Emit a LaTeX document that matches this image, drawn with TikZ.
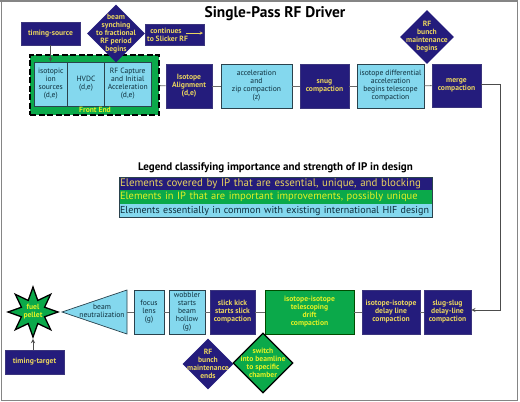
\documentclass[tikz,border=0pt]{standalone}
\usepackage{fontspec}
\usepackage{xcolor}
\usepackage{tikz}
\usetikzlibrary{shapes.geometric}
\setmainfont{PT Sans}
\definecolor{navyfill}{HTML}{241C7C}
\definecolor{skyfill}{HTML}{84D8EE}
\definecolor{greenfill}{HTML}{0BA94A}
\definecolor{navytext}{HTML}{E9D45F}
\definecolor{greentext}{HTML}{E4F224}
\definecolor{skytext}{HTML}{0E2E3C}
\definecolor{linkgray}{HTML}{6A6A6A}
\definecolor{framegray}{HTML}{858585}
\begin{document}
\begin{tikzpicture}[x=1pt, y=-1pt,
    every node/.style={align=center, font=\fontsize{7.6}{8}\selectfont, inner sep=0pt},
    navybox/.style={rectangle, draw=navyfill!75!gray, line width=0.6pt, fill=navyfill, text=navytext, font=\fontsize{7.6}{8}\selectfont\bfseries},
    skybox/.style={rectangle, draw=skytext!75!gray, line width=0.7pt, fill=skyfill, text=skytext},
    greenbox/.style={rectangle, draw=green!30!black, line width=0.6pt, fill=greenfill, text=greentext, font=\fontsize{7.6}{8}\selectfont\bfseries},
    navydiamond/.style={diamond, aspect=1, fill=navyfill},
    greendiamond/.style={diamond, aspect=1, fill=greenfill, draw=black, line width=1.3pt},
    navylabel/.style={text=navytext, font=\fontsize{7.6}{8}\selectfont\bfseries},
    greenlabel/.style={text=greentext, font=\fontsize{7.6}{8}\selectfont\bfseries},
    link/.style={draw=linkgray, line width=0.9pt},
    arrowlink/.style={link, draw=black!70, ->, >=stealth},
    legendrow/.style={rectangle, text width=311pt, align=left, inner xsep=1pt, minimum height=13.4pt, text height=7.6pt, text depth=2pt},
]
    % page and frame
    \path[use as bounding box, fill=white] (0,0) rectangle (520,402);
    \draw[framegray, line width=1pt] (1,1) rectangle (517,400.5);
    \draw[framegray, line width=2pt] (0,1) -- (518,1);
    \node[font=\fontsize{15.4}{18}\selectfont\bfseries] (title) at (275,14) {Single-Pass RF Driver};

    % front end
    \node[rectangle, fill=greenfill, draw=black, line width=1.6pt, dash pattern=on 6pt off 2.5pt, minimum width=129pt, minimum height=60pt] (front end) at (94.5,85) {};
    \node[skybox, minimum width=33.5pt, minimum height=44pt] (ion sources) at (50.75,84) {isotopic\\ion\\sources\\(d,e)};
    \node[skybox, minimum width=37pt, minimum height=44pt] (hvdc) at (86,84) {HVDC\\(d,e)};
    \node[skybox, minimum width=46.5pt, minimum height=44pt] (rf capture) at (127.75,84) {RF Capture\\and Initial\\Acceleration\\(d,e)};
    \node[text=greentext, font=\fontsize{7.6}{8}\selectfont\bfseries] (front end label) at (95,110) {Front End};

    % top row
    \node[navybox, minimum width=59pt, minimum height=23pt] (timing source) at (50.5,33.5) {timing-source};
    \node[navybox, minimum width=59pt, minimum height=21pt] (continues) at (174.5,34.5) {\mbox{continues\hspace{17pt}}\\\mbox{to Slicker RF\hspace{14pt}}};
    \coordinate (continues start) at (186,33);
    \coordinate (continues end) at (203,33);
    \node[navybox, minimum width=46pt, minimum height=44pt] (alignment) at (189,86) {Isotope\\Alignment\\(d,e)};
    \node[skybox, minimum width=71pt, minimum height=44pt] (zip) at (256.5,86) {acceleration\\and\\zip compaction\\(z)};
    \node[navybox, minimum width=49pt, minimum height=44pt] (snug) at (324.5,86) {snug\\compaction};
    \node[skybox, minimum width=67pt, minimum height=44pt] (differential) at (390.5,86) {isotope differential\\acceleration\\begins telescope\\compaction};
    \node[navybox, minimum width=49pt, minimum height=43pt] (merge) at (456.5,85.5) {merge\\compaction};
    \coordinate (right turn top) at (500,84);
    \coordinate (right turn bottom) at (500,310);

    % diamonds on top
    \node[navydiamond, minimum size=58pt] (beam synching) at (116,33.5) {};
    \node[navylabel] (beam synching text) at (beam synching) {beam\\synching\\to fractional\\RF period\\begins};
    \node[navydiamond, minimum size=54pt] (maintenance begins) at (427,37) {};
    \node[navylabel] (maintenance begins text) at (maintenance begins) {RF\\bunch\\maintenance\\begins};

    % legend
    \node[font=\fontsize{11}{12}\selectfont\bfseries] (legend title) at (275.5,168) {Legend classifying importance and strength of IP in design};
    \node[legendrow, fill=navyfill, text=navytext, font=\fontsize{10.9}{10}\selectfont] (legend navy) at (275.5,183.7) {\mbox{Elements covered by IP that are essential, unique, and blocking}};
    \node[legendrow, fill=greenfill, text=greentext, font=\fontsize{10.5}{10}\selectfont] (legend green) at (275.5,197) {\mbox{Elements in IP that are important improvements, possibly unique}};
    \node[legendrow, fill=skyfill, text=skytext, font=\fontsize{10.05}{10}\selectfont] (legend sky) at (275.5,210.4) {\mbox{Elements essentially in common with existing international HIF design}};
    \draw[skytext!75!gray, line width=0.5pt] (legend navy.north west) rectangle (legend sky.south east);

    % bottom row
    \node[navybox, minimum width=47pt, minimum height=44pt] (slug) at (447.5,312) {slug-slug\\delay-line\\compaction};
    \node[navybox, minimum width=58pt, minimum height=44pt] (delay line) at (391,312) {isotope-isotope\\delay line\\compaction};
    \node[greenbox, minimum width=89pt, minimum height=44pt] (telescoping) at (309.5,312) {isotope-isotope\\telescoping\\drift\\compaction};
    \node[navybox, minimum width=45pt, minimum height=44pt] (slick) at (232.5,312) {slick kick\\starts slick\\compaction};
    \node[skybox, minimum width=36pt, minimum height=44pt] (wobbler) at (187,312) {wobbler\\starts\\beam\\hollow\\(g)};
    \node[skybox, minimum width=30pt, minimum height=44pt] (focus) at (149,312) {focus\\lens\\(g)};
    \coordinate (cone tip) at (62,312);
    \coordinate (cone top) at (127,290);
    \coordinate (cone bottom) at (127,334);
    \coordinate (cone base) at (127,312);
    \draw[fill=skyfill, draw=skytext!75!gray, line width=0.7pt] (cone tip) -- (cone top) -- (cone bottom) -- cycle;
    \node[text=skytext] (neutralization) at (102,311) {beam\\neutralization};
    \node[star, star points=8, star point ratio=2, fill=greenfill, draw=black, line width=1.3pt, minimum size=50pt] (pellet) at (33,312) {};
    \node[greenlabel] (pellet text) at (pellet) {fuel\\pellet};
    \node[navybox, minimum width=59pt, minimum height=24pt] (timing target) at (34.5,362) {timing-target};

    % diamonds below
    \node[navydiamond, minimum size=51pt] (maintenance ends) at (208,364) {};
    \node[navylabel] (maintenance ends text) at (maintenance ends) {RF\\bunch\\maintenance\\ends};
    \node[greendiamond, minimum size=60pt] (switch) at (263,363) {};
    \node[greenlabel] (switch text) at (switch) {switch\\into beamline\\to specific\\chamber};

    % connectors
    \draw[link] (front end) -- (alignment);
    \draw[link] (alignment) -- (zip);
    \draw[link] (zip) -- (snug);
    \draw[link] (snug) -- (differential);
    \draw[link] (differential) -- (merge);
    \draw[arrowlink] (merge.east |- right turn top) -- (right turn top) -- (right turn bottom) -- (slug.east |- right turn bottom);
    \draw[link] (slug) -- (delay line);
    \draw[link] (delay line) -- (telescoping);
    \draw[link] (telescoping) -- (slick);
    \draw[link] (slick) -- (wobbler);
    \draw[link] (wobbler) -- (focus);
    \draw[link] (focus) -- (cone base);
    \draw[arrowlink] (timing source) -- (ion sources.north -| timing source);
    \draw[arrowlink] (timing target.north -| pellet) -- (pellet.south);
    \draw[->, >=stealth, navytext, line width=0.5pt] (continues start) -- (continues end);
\end{tikzpicture}
\end{document}
